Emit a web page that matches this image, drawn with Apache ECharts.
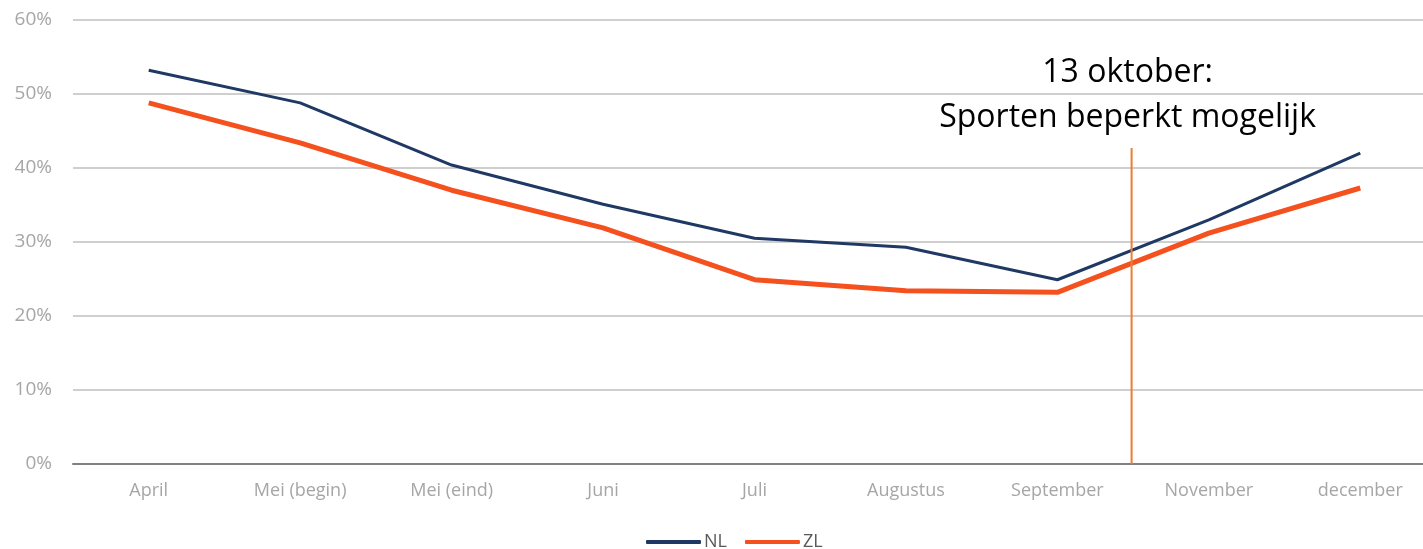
<!DOCTYPE html>
<html><head><meta charset="utf-8">
<script src="https://cdn.jsdelivr.net/npm/echarts@6/dist/echarts.min.js"></script>
<style>html,body{margin:0;padding:0;background:#fff}#c{width:1423px;height:549px}</style>
</head><body><div id="c"></div>
<script>
var categories = ['April','Mei (begin)','Mei (eind)','Juni','Juli','Augustus','September','November','december'];
var nlValues = [53.2, 48.8, 40.4, 35.1, 30.5, 29.3, 24.9, 33.0, 42.0];
var zlValues = [48.8, 43.4, 37.0, 31.9, 24.9, 23.4, 23.2, 31.2, 37.3];
var yTicks = [0, 10, 20, 30, 40, 50, 60];
var annotationX = 6.49;      // between September and November (category index units)
var annotationTop = 42.7;    // top of the marker line in %
var annotationText = '13 oktober:\nSporten beperkt mogelijk';

var chart = echarts.init(document.getElementById('c'), null, {renderer:'canvas'});
chart.setOption({
  animation: false,
  textStyle: {fontFamily: 'Open Sans'},
  grid: {left: 73, width: 1363, top: 20, bottom: 85, containLabel: false, outerBoundsMode: 'none'},
  legend: {
    data: ['NL','ZL'], top: 533, left: 646, padding: 0,
    itemWidth: 55, itemHeight: 4, itemGap: 18, icon: 'roundRect',
    textStyle: {color: '#595959', fontSize: 18, fontFamily: 'Open Sans', padding: [0,0,0,-2]}
  },
  xAxis: [{
    type: 'category', data: categories, boundaryGap: true,
    axisLine: {lineStyle: {color: '#808080', width: 2}},
    axisTick: {show: false},
    axisLabel: {color: '#a6a6a6', fontSize: 18, margin: 18}
  }, {
    type: 'value', min: -0.5, max: 8.5, show: false
  }],
  yAxis: {
    type: 'value', min: yTicks[0], max: yTicks[yTicks.length-1], interval: 10,
    axisLine: {show: false}, axisTick: {show: false},
    axisLabel: {color: '#a6a6a6', fontSize: 19, margin: 21, formatter: '{value}%'},
    splitLine: {lineStyle: {color: '#bfbfbf', width: 1.5}}
  },
  series: [{
    name: 'NL', type: 'line', data: nlValues, symbol: 'none',
    lineStyle: {color: '#1f3864', width: 3}, itemStyle: {color: '#1f3864'}, z: 3
  }, {
    name: 'ZL', type: 'line', data: zlValues, symbol: 'none',
    lineStyle: {color: '#f4511e', width: 5}, itemStyle: {color: '#f4511e'}, z: 2
  }, {
    name: 'annot', type: 'line', xAxisIndex: 1, z: 4,
    symbol: 'circle', symbolSize: 1, showSymbol: true,
    itemStyle: {color: 'rgba(0,0,0,0)'},
    lineStyle: {color: '#ed7d31', width: 2},
    data: [[annotationX, 0], {value: [annotationX, annotationTop],
      label: {show: true, position: 'top', formatter: annotationText, color: '#000',
        fontSize: 32, lineHeight: 45, offset: [-4, -2], fontFamily: 'Open Sans'}}]
  }]
});
</script></body></html>
